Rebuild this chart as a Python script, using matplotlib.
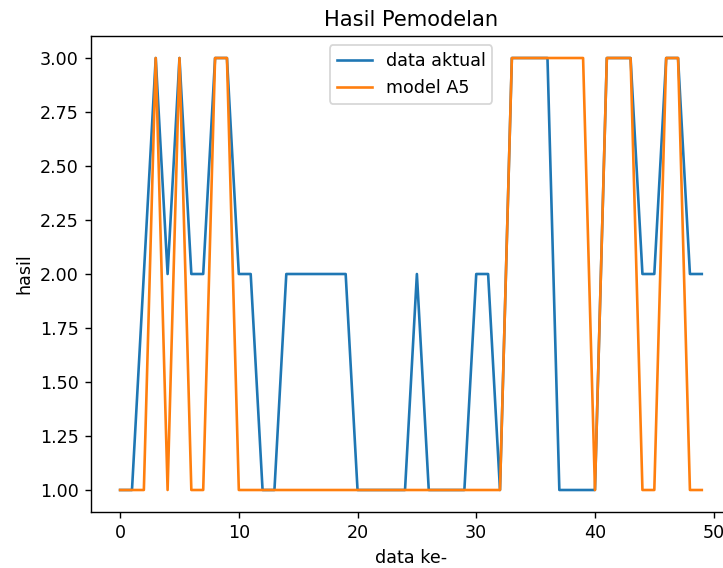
import matplotlib
matplotlib.use('Agg')
import matplotlib.pyplot as plt

# hasil pemodelan: data aktual vs model A5
data_aktual = [1, 1, 2, 3, 2, 3, 2, 2, 3, 3,
               2, 2, 1, 1, 2, 2, 2, 2, 2, 2,
               1, 1, 1, 1, 1, 2, 1, 1, 1, 1,
               2, 2, 1, 3, 3, 3, 3, 1, 1, 1,
               1, 3, 3, 3, 2, 2, 3, 3, 2, 2]
model_a5 = [1, 1, 1, 3, 1, 3, 1, 1, 3, 3,
            1, 1, 1, 1, 1, 1, 1, 1, 1, 1,
            1, 1, 1, 1, 1, 1, 1, 1, 1, 1,
            1, 1, 1, 3, 3, 3, 3, 3, 3, 3,
            1, 3, 3, 3, 1, 1, 3, 3, 1, 1]

dpi = 126
fig = plt.figure(figsize=(723 / dpi, 568 / dpi), dpi=dpi)
ax = fig.add_axes([0.1259, 0.0993, 0.885, 0.8366])

ax.plot(data_aktual, label='data aktual')
ax.plot(model_a5, label='model A5')
ax.set_title('Hasil Pemodelan')
ax.set_xlabel('data ke-')
ax.set_ylabel('hasil')
ax.legend(loc='upper center')

fig.savefig('out.png', dpi=dpi)
